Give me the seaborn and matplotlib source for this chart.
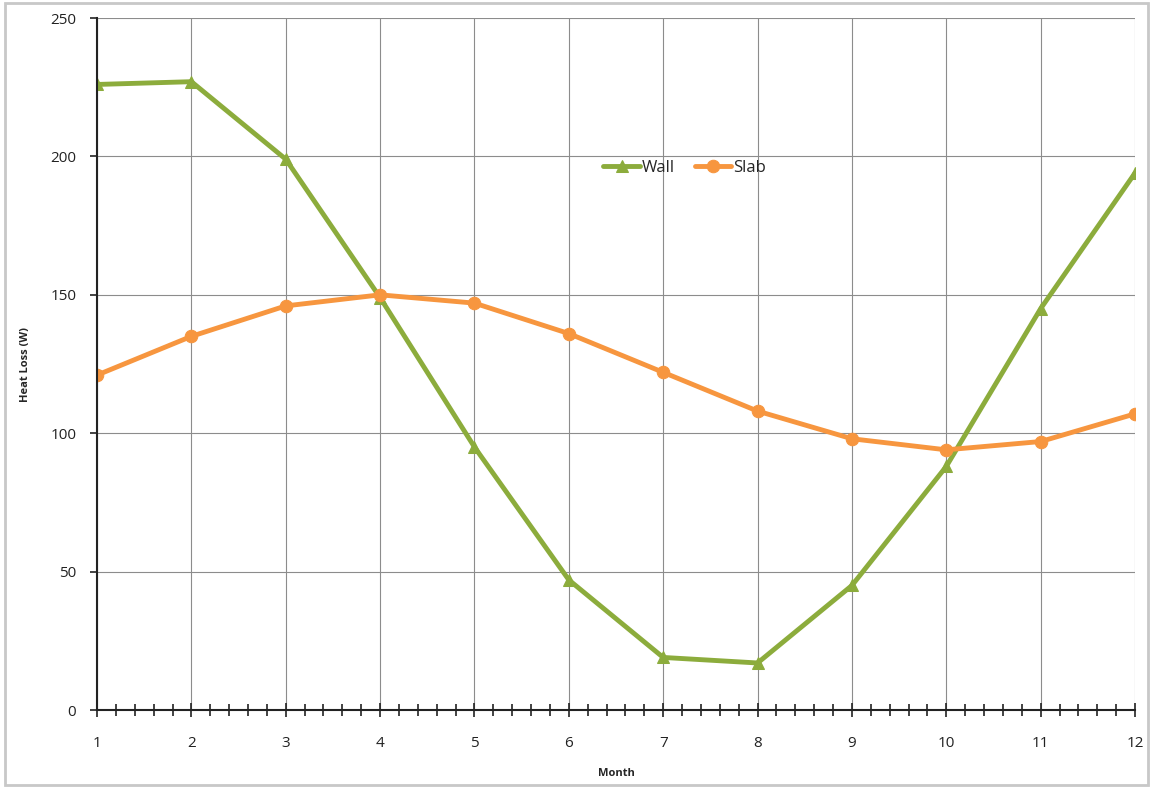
import pandas as pd
import numpy as np
import seaborn as sns
import matplotlib.pyplot as plt
from matplotlib.ticker import MultipleLocator
from matplotlib.patches import Rectangle

# dados
meses = [1, 2, 3, 4, 5, 6, 7, 8, 9, 10, 11, 12]
wall = [226, 227, 199, 149, 95, 47, 19, 17, 45, 88, 145, 194]
slab = [121, 135, 146, 150, 147, 136, 122, 108, 98, 94, 97, 107]

cor_wall = '#8CAC3C'
cor_slab = '#F7963F'

df = pd.DataFrame({'Month': meses, 'Wall': wall, 'Slab': slab})

sns.set_style('white')
plt.rcParams['font.family'] = ['Open Sans', 'DejaVu Sans']

fig = plt.figure(figsize=(11.51, 7.87), dpi=100)
ax = fig.add_axes([0.0843, 0.0978, 0.9018, 0.8793])

sns.lineplot(data=df, x='Month', y='Wall', ax=ax, color=cor_wall, linewidth=3.5,
             marker='^', markersize=9, markeredgecolor=cor_wall, label='Wall')
sns.lineplot(data=df, x='Month', y='Slab', ax=ax, color=cor_slab, linewidth=3.5,
             marker='o', markersize=9, markeredgecolor=cor_slab, label='Slab')

ax.set_xlim(1, 12)
ax.set_ylim(0, 250)
ax.xaxis.set_major_locator(MultipleLocator(1))
ax.xaxis.set_minor_locator(MultipleLocator(0.2))
ax.yaxis.set_major_locator(MultipleLocator(50))

ax.grid(True, which='major', color='#8c8c8c', linewidth=0.8)
ax.set_axisbelow(True)
for lado in ['top', 'right']:
    ax.spines[lado].set_visible(False)
for lado in ['left', 'bottom']:
    ax.spines[lado].set_color('#222222')
    ax.spines[lado].set_linewidth(1.5)

ax.tick_params(axis='x', which='both', bottom=True)
ax.tick_params(axis='y', which='major', left=True)
ax.tick_params(axis='x', which='major', direction='inout', length=10, width=1.2,
               labelsize=11, pad=14, colors='#222222')
ax.tick_params(axis='x', which='minor', direction='inout', length=8, width=1.2, colors='#222222')
ax.tick_params(axis='y', which='major', direction='out', length=5, width=1.2,
               labelsize=11, pad=10, colors='#222222')

ax.set_xlabel('Month', fontsize=8, fontweight='bold', labelpad=12)
ax.set_ylabel('Heat Loss (W)', fontsize=8, fontweight='bold', labelpad=14)

ax.legend(loc='center', bbox_to_anchor=(0.566, 0.783), ncol=2, frameon=False,
          fontsize=12, handlelength=2.2, columnspacing=1.2, handletextpad=0.1)

# moldura cinza clara em volta da figura
fig.patches.append(Rectangle((0.004, 0.002), 0.993, 0.994, transform=fig.transFigure,
                             fill=False, edgecolor='#c8c8c8', linewidth=2))

plt.savefig('out.png', dpi=100)
